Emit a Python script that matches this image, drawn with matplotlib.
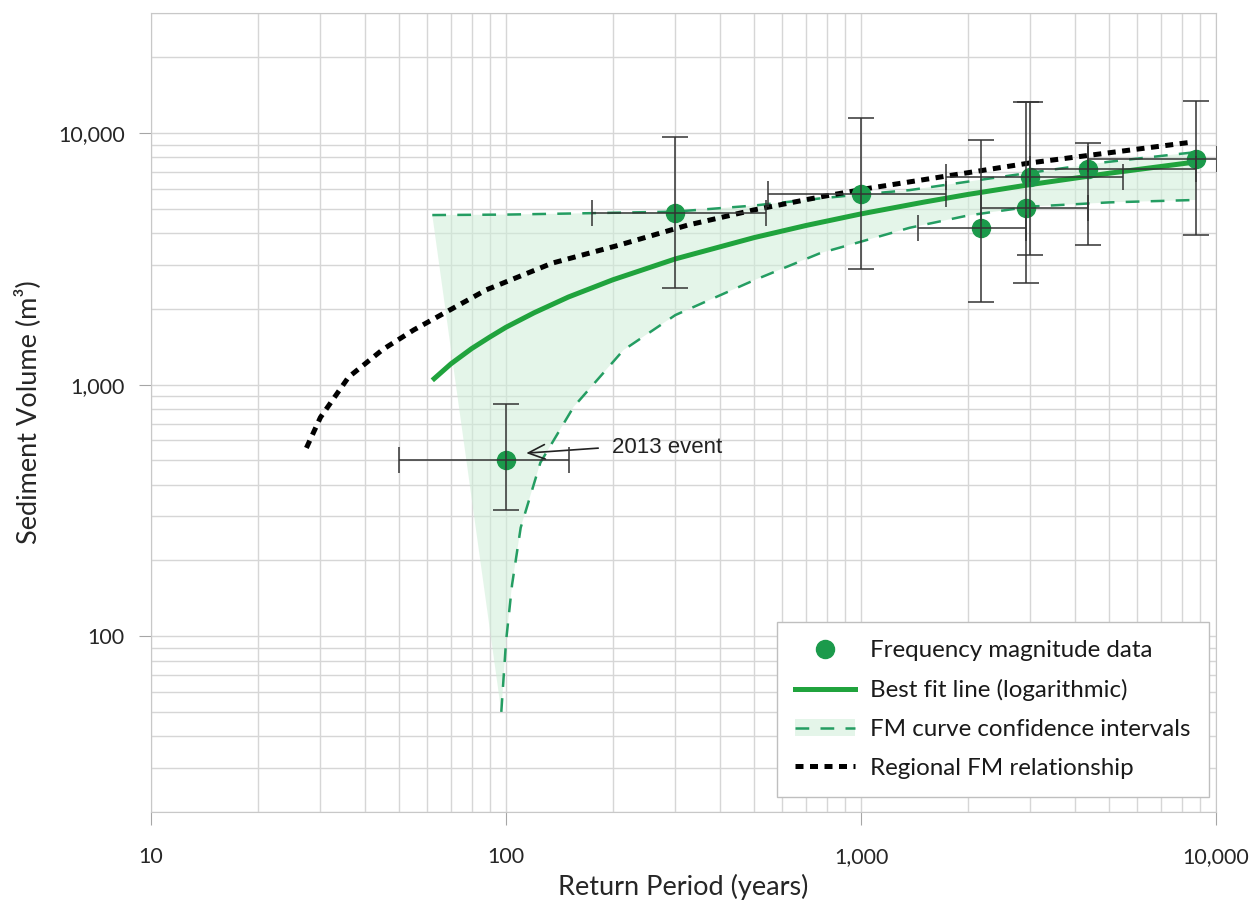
import matplotlib
matplotlib.use('Agg')
import matplotlib.pyplot as plt
from matplotlib.ticker import FuncFormatter, NullFormatter, LogLocator
from matplotlib.lines import Line2D
from matplotlib.patches import Patch
import numpy as np

plt.rcParams['font.family'] = ['Lato', 'DejaVu Sans']

# frequency magnitude data: return period (years) and sediment volume (m3) with ranges
fm_period = [100, 300, 1000, 2180, 2920, 2990, 4350, 8790]
fm_volume = [500, 4800, 5700, 4190, 5030, 6680, 7200, 7880]
fm_period_lo = [50, 175, 547, 1450, 2180, 1730, 2990, 4350]
fm_period_hi = [150, 540, 1730, 2920, 4350, 5470, 8790, 10070]
fm_volume_lo = [317, 2420, 2880, 2120, 2530, 3270, 3590, 3930]
fm_volume_hi = [840, 9640, 11500, 9380, 13300, 13300, 9130, 13400]

# best fit line (logarithmic)
fit_period = [62, 70, 80, 90, 100, 120, 150, 200, 300, 500, 700, 1000, 1500, 2000, 3000, 5000, 8800]
fit_volume = [1040, 1210, 1390, 1545, 1690, 1930, 2230, 2610, 3160, 3840, 4290, 4770, 5310, 5700, 6240, 6920, 7680]

# confidence intervals of the FM curve
ci_upper_period = [62, 100, 170, 300, 500, 770, 1000, 1370, 2450, 4930, 7400, 8800]
ci_upper_volume = [4720, 4740, 4800, 4870, 5150, 5500, 5700, 5930, 6680, 7670, 8180, 8400]
ci_lower_period = [97, 100, 104, 110, 125, 155, 214, 300, 500, 767, 1000, 1370, 2000, 3000, 5000, 8800]
ci_lower_volume = [50, 95, 160, 270, 490, 815, 1370, 1890, 2600, 3330, 3700, 4200, 4700, 5100, 5300, 5420]

# regional FM relationship
reg_period = [27.4, 30, 36, 45, 55, 88, 135, 209, 324, 497, 767, 1060, 3000, 8600]
reg_volume = [560, 740, 1070, 1380, 1650, 2380, 3040, 3590, 4300, 4940, 5570, 6040, 7610, 9210]

green_pt = '#1b9a4b'
green_fit = '#20a33d'
green_ci = '#249d62'
fill_col = '#cfeed8'

fig = plt.figure(figsize=(12.57, 9.05), dpi=100)
ax = fig.add_axes([151/1257, 1 - 812/905, 1065/1257, 799/905])
ax.set_xscale('log')
ax.set_yscale('log')
ax.set_xlim(10, 10000)
ax.set_ylim(20, 30000)

# shaded band between the confidence limits
band_x = list(ci_upper_period) + list(ci_lower_period[::-1])
band_y = list(ci_upper_volume) + list(ci_lower_volume[::-1])
ax.fill(band_x, band_y, color=fill_col, alpha=0.55, lw=0, zorder=1)

ax.plot(ci_upper_period, ci_upper_volume, color=green_ci, lw=1.8, dashes=(5.5, 4.5), zorder=2)
ax.plot(ci_lower_period, ci_lower_volume, color=green_ci, lw=1.8, dashes=(5.5, 4.5), zorder=2)
ax.plot(reg_period, reg_volume, color='black', lw=3.6, dashes=(1.6, 1.3), zorder=3)
ax.plot(fit_period, fit_volume, color=green_fit, lw=3.6, solid_capstyle='butt', zorder=3)

x = np.array(fm_period, dtype=float)
y = np.array(fm_volume, dtype=float)
ax.plot(x, y, 'o', ms=13, color=green_pt, mec=green_pt, zorder=4)
ax.errorbar(x, y,
            xerr=[x - np.array(fm_period_lo), np.array(fm_period_hi) - x],
            yerr=[y - np.array(fm_volume_lo), np.array(fm_volume_hi) - y],
            fmt='none', ecolor='#333333', elinewidth=1.1, capsize=9.5, capthick=1.1, zorder=5)

ax.annotate('2013 event', xy=(114, 534), xytext=(199, 564),
            ha='left', va='center', fontsize=16, family=['Liberation Sans', 'DejaVu Sans'],
            color='#222222',
            arrowprops=dict(arrowstyle='->,head_length=0.8,head_width=0.35', color='#222222',
                            lw=1.2, relpos=(0, 0.5), shrinkA=8, shrinkB=0, mutation_scale=15))

# grid and axes styling
ax.set_axisbelow(True)
ax.grid(which='both', color='#d6d6d6', lw=1.0)
for s in ax.spines.values():
    s.set_color('#c8c8c8')
ax.xaxis.set_major_locator(LogLocator(base=10))
ax.yaxis.set_major_locator(LogLocator(base=10))
fmt = FuncFormatter(lambda v, p: f'{v:,.0f}')
ax.xaxis.set_major_formatter(fmt)
ax.yaxis.set_major_formatter(fmt)
ax.xaxis.set_minor_formatter(NullFormatter())
ax.yaxis.set_minor_formatter(NullFormatter())
ax.tick_params(which='major', length=9, color='#a6a6a6', labelsize=15.5, labelcolor='#262626')
ax.tick_params(axis='x', which='major', pad=16)
ax.tick_params(axis='y', which='major', pad=10)
ax.tick_params(which='minor', length=0)

ax.set_xlabel('Return Period (years)', fontsize=19.5, color='#262626', labelpad=5)
ax.set_ylabel('Sediment Volume (m³)', fontsize=19.5, color='#262626', labelpad=12)

handles = [
    Line2D([], [], marker='o', ms=13, color=green_pt, ls='none'),
    Line2D([], [], color=green_fit, lw=3.6),
    (Patch(facecolor=fill_col, alpha=0.55, lw=0), Line2D([], [], color=green_ci, lw=1.8, dashes=(5.5, 4.5))),
    Line2D([], [], color='black', lw=3.6, dashes=(1.6, 1.3)),
]
labels = ['Frequency magnitude data', 'Best fit line (logarithmic)',
          'FM curve confidence intervals', 'Regional FM relationship']
leg = ax.legend(handles, labels, loc='lower right', bbox_to_anchor=(0.9934, 0.0188),
                borderaxespad=0, frameon=True, fancybox=False, framealpha=1,
                edgecolor='#bfbfbf', fontsize=17.4, handlelength=2.45, handletextpad=0.65,
                labelspacing=0.74, borderpad=0.75)
leg.get_frame().set_linewidth(1.0)
for t in leg.get_texts():
    t.set_color('#1a1a1a')

fig.savefig('out.png', dpi=100)
